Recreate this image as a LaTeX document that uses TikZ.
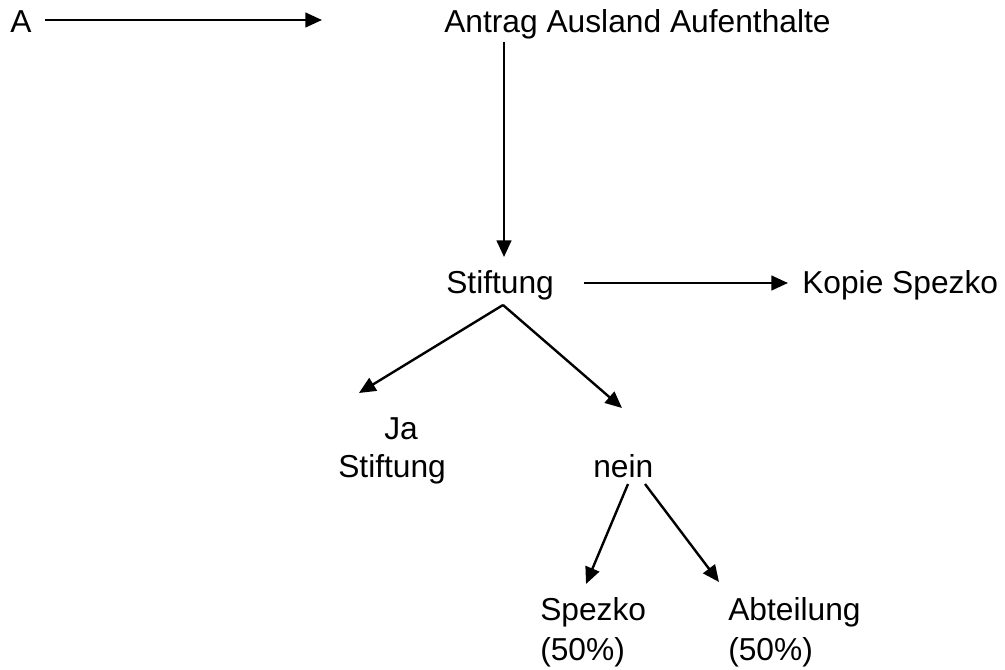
\documentclass[tikz,border=0pt]{standalone}
\usepackage{fontspec}
\setmainfont{Liberation Sans}
\usetikzlibrary{arrows.meta}
\begin{document}
\begin{tikzpicture}[x=0.75pt,y=-0.75pt,
  lbl/.style={anchor=base west,inner sep=0pt,font=\fontsize{23.8}{28.5}\selectfont},
  arr/.style={line width=1.8pt,-{Triangle[length=12.5pt,width=11pt]}}]
\useasboundingbox (0,0) rectangle (1005,670);
\node[lbl] (a) at (10,33) {A};
\node[lbl] (antrag) at (444,33) {Antrag Ausland Aufenthalte};
\node[lbl] (stift) at (446,293) {Stiftung};
\node[lbl] (kopie) at (802,293) {Kopie Spezko};
\node[lbl] (ja) at (384,439) {Ja};
\node[lbl] (jastift) at (338,477) {Stiftung};
\node[lbl] (nein) at (593,477) {nein};
\node[lbl] (spezko) at (540,620) {Spezko};
\node[lbl] (spezkop) at (540,660) {(50\%)};
\node[lbl] (abt) at (728,620) {Abteilung};
\node[lbl] (abtp) at (728,660) {(50\%)};
% connector ends
\coordinate (a1) at (45,20);
\coordinate (a2) at (322,20);
\coordinate (v1) at (504,42);
\coordinate (v2) at (504,257);
\coordinate (k1) at (584,283);
\coordinate (k2) at (788,283);
\coordinate (s0) at (503,305);
\coordinate (j2) at (359,393);
\coordinate (n2) at (622,408);
\coordinate (n1a) at (628,484);
\coordinate (n1b) at (645,484);
\coordinate (sp2) at (586,584);
\coordinate (ab2) at (719,582);
\draw[arr] (a1) -- (a2);
\draw[arr] (v1) -- (v2);
\draw[arr] (k1) -- (k2);
\draw[arr] (s0) -- (j2);
\draw[arr] (s0) -- (n2);
\draw[arr] (n1a) -- (sp2);
\draw[arr] (n1b) -- (ab2);
\end{tikzpicture}
\end{document}
